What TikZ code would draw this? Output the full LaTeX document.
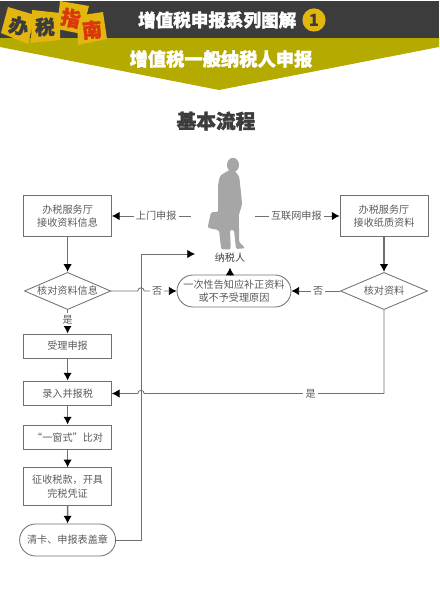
\documentclass[tikz,border=0pt]{standalone}
\usepackage{fontspec}
\setmainfont{Noto Sans CJK SC}
\newfontfamily\heavyfont[BoldFeatures={FakeBold=1.6}]{Noto Sans CJK SC}
\usetikzlibrary{arrows.meta, shapes.geometric, shapes.misc}

\definecolor{bandDark}{HTML}{3C3C3C}
\definecolor{bandOlive}{HTML}{B5AA00}
\definecolor{stickerYellow}{HTML}{E3B50F}
\definecolor{stickerRed}{HTML}{D8380C}
\definecolor{lineGray}{HTML}{707070}
\definecolor{textGray}{HTML}{5A5A5A}
\definecolor{figureGray}{HTML}{A6A6A6}

\begin{document}
\begin{tikzpicture}[
        every node/.style={font=\fontsize{7.2}{9.6}\selectfont, text=textGray, align=center},
        procbox/.style={draw=lineGray, line width=0.7pt, minimum width=2.19cm, inner sep=0pt},
        checkbox/.style={draw=lineGray, line width=0.6pt, diamond, aspect=2.3, inner sep=-3pt, minimum width=2.16cm, minimum height=0.93cm},
        termbox/.style={draw=lineGray, line width=0.6pt, rounded rectangle, minimum height=0.8cm, inner sep=0pt},
        flow/.style={draw=lineGray, line width=0.6pt, -{Latex[length=5.5pt, width=6pt, black]}},
        mainflow/.style={flow, line width=1pt},
        linelabel/.style={fill=white, inner sep=1.5pt},
        sticker/.style={fill=stickerYellow},
        stickertext/.style={font=\fontsize{14}{14}\heavyfont\bfseries},
    ]
    \useasboundingbox (0,0) rectangle (10.975,14.875);

    %====================== HEADER ======================
    \fill[bandOlive] (0,13.95) -- (10.975,13.95) -- (10.975,13.7) -- (5.475,12.625) -- (0,13.7) -- cycle;
    \fill[bandDark] (0,13.925) rectangle (10.975,14.85);

    \fill[sticker] (0.2,14.7) -- (0.875,14.5) -- (0.7,13.775) -- (0.025,14.05) -- cycle;
    \fill[sticker] (0.8,14.625) -- (1.5,14.55) -- (1.5,13.875) -- (0.775,13.8) -- cycle;
    \fill[sticker] (1.925,14.475) -- (2.575,14.575) -- (2.675,13.9) -- (1.95,13.75) -- cycle;
    \fill[sticker] (1.5,14.85) -- (2.225,14.725) -- (2.05,14.025) -- (1.425,14.15) -- cycle;
    \node[stickertext, text=bandDark, rotate=-15] (st-ban) at (0.47,14.22) {办};
    \node[stickertext, text=bandDark] (st-shui) at (1.125,14.2) {税};
    \node[stickertext, text=stickerRed, rotate=-12] (st-zhi) at (1.77,14.42) {指};
    \node[stickertext, text=stickerRed, rotate=5] (st-nan) at (2.3,14.125) {南};

    \node[font=\fontsize{12.5}{12.5}\heavyfont\bfseries, text=white] (title-a) at (5.43,14.375) {增值税申报系列图解};
    \node[circle, fill=stickerYellow, minimum size=0.58cm, inner sep=0pt, font=\fontsize{12}{12}\selectfont\bfseries, text=bandDark] (title-no) at (7.85,14.375) {1};
    \node[font=\fontsize{13}{13}\heavyfont\bfseries, text=white] (title-b) at (5.525,13.4) {增值税一般纳税人申报};
    \node[font=\fontsize{14}{14}\heavyfont\bfseries, text=bandDark] (title-c) at (5.4,11.85) {基本流程};

    %====================== TAXPAYER FIGURE ======================
    \fill[figureGray] (5.825,10.75) ellipse (0.15 and 0.18);
    \fill[figureGray, rounded corners=1pt] (5.73,10.625) -- (5.5,10.48) -- (5.45,10.25) -- (5.45,9.57) -- (5.275,9.57) -- (5.19,9.18) -- (5.475,9.12)
        -- (5.53,8.64) -- (5.77,8.64) -- (5.75,9.125) -- (5.85,9.125) -- (5.9,8.65) -- (6.13,8.67) -- (5.98,8.82)
        -- (5.97,9.5) -- (6.05,9.75) -- (6.04,9.92) -- (5.98,10.46) -- (5.875,10.6) -- cycle;
    \node[text=black!75] (payer) at (5.75,8.425) {纳税人};

    %====================== LEFT COLUMN ======================
    \node[procbox, minimum height=1cm] (hall-l) at (1.69,9.475) {办税服务厅\\接收资料信息};
    \node[checkbox] (chk-l) at (1.69,7.6) {核对资料信息};
    \node[procbox, minimum height=0.6cm] (accept) at (1.69,6.225) {受理申报};
    \node[procbox, minimum height=0.62cm] (record) at (1.69,5.0375) {录入并报税};
    \node[procbox, minimum height=0.62cm] (compare) at (1.69,3.9375) {“一窗式”比对};
    \node[procbox, minimum height=0.93cm] (collect) at (1.69,2.7125) {征收税款，开具\\完税凭证};
    \node[termbox, minimum width=2.4cm] (clear) at (1.69,1.375) {清卡、申报表盖章};

    %====================== RIGHT COLUMN ======================
    \node[termbox, minimum width=2.85cm] (notice) at (5.85,7.6) {一次性告知应补正资料\\或不予受理原因};
    \node[procbox, minimum width=2.2cm, minimum height=1cm] (hall-r) at (9.6,9.475) {办税服务厅\\接收纸质资料};
    \node[checkbox, minimum width=2.18cm] (chk-r) at (9.6,7.6) {核对资料};

    %====================== CONNECTORS ======================
    \coordinate (door-out) at (4.775,9.475);
    \coordinate (web-out) at (6.375,9.475);
    \coordinate (hop-a) at (3.525,7.6);
    \coordinate (hop-b) at (3.525,5.0375);
    \coordinate (ret-turn) at (3.525,8.525);
    \coordinate (ret-end) at (4.875,8.525);

    \draw[flow] (door-out) -- node[linelabel, pos=0.44] (lab-door) {上门申报} (hall-l.east);
    \draw[flow] (web-out) -- node[linelabel, pos=0.49] (lab-web) {互联网申报} (hall-r.west);

    \draw[mainflow] (hall-l) -- (chk-l);
    \draw[mainflow] (chk-l) -- node[linelabel, pos=0.4] (lab-yes-l) {是} (accept);
    \draw[mainflow] (accept) -- (record);
    \draw[mainflow] (record) -- (compare);
    \draw[mainflow] (compare) -- (collect);
    \draw[mainflow] (collect) -- (clear);
    \draw[mainflow] (hall-r) -- (chk-r);

    \draw[flow] (chk-l.east) -- ([xshift=-0.08cm]hop-a) arc[start angle=180, end angle=0, radius=0.08cm] -- node[linelabel, pos=0.4] (lab-no-l) {否} (notice.west);
    \draw[flow] (chk-r.west) -- node[linelabel, pos=0.45] (lab-no-r) {否} (notice.east);
    \draw[flow] (notice.north -| payer) -- (payer.south);
    \draw[flow] (chk-r.south) |- node[linelabel, pos=0.653] (lab-yes-r) {是} ([xshift=0.08cm]hop-b) arc[start angle=0, end angle=180, radius=0.08cm] -- (record.east);
    \draw[flow] (clear.east) -| (ret-turn) -- (ret-end);

    \end{tikzpicture}
\end{document}
